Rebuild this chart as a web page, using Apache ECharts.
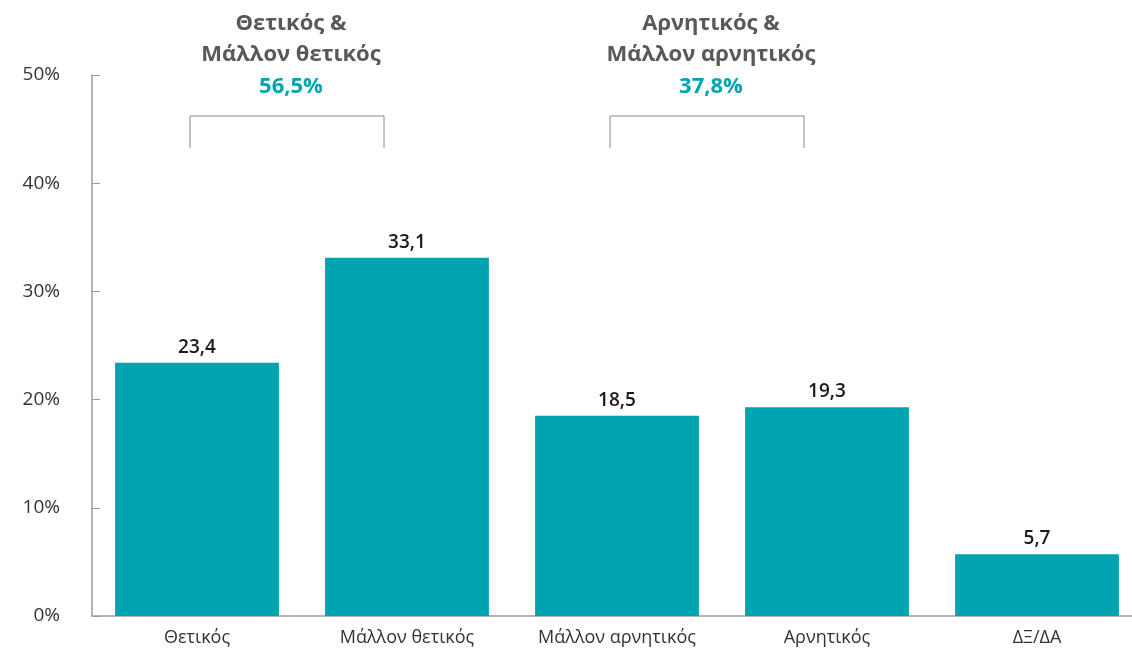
<!DOCTYPE html>
<html lang="el">
<head>
    <meta charset="UTF-8">
    <title>Θετικός / Αρνητικός</title>
    <script src="https://cdn.jsdelivr.net/npm/echarts@6/dist/echarts.min.js"></script>
    <style>
        html, body { margin: 0; padding: 0; background: #fff; overflow: hidden; }
        /* the plot runs slightly past the right edge, as in the original */
        #main { width: 1142px; height: 655px; }
    </style>
</head>
<body>
<div id="main"></div>
<script type="text/javascript">
    // δεδομένα
    var categories = ['Θετικός', 'Μάλλον θετικός', 'Μάλλον αρνητικός', 'Αρνητικός', 'ΔΞ/ΔΑ'];
    var values = [23.4, 33.1, 18.5, 19.3, 5.7];
    var yTicks = [0, 10, 20, 30, 40, 50];
    // ομάδες πάνω από τις μπάρες: [πρώτη κατηγορία, δεύτερη, γραμμή 1, γραμμή 2, σύνολο]
    var groups = [
        [0, 1, 'Θετικός &', 'Μάλλον θετικός', '56,5%'],
        [2, 3, 'Αρνητικός &', 'Μάλλον αρνητικός', '37,8%']
    ];

    var teal = '#00A4B1';
    var font = 'Open Sans';

    var myChart = echarts.init(document.getElementById('main'));

    var option = {
        animation: false,
        grid: {
            left: 92,
            right: 0,
            top: 75,
            bottom: 39,
            containLabel: false
        },
        xAxis: {
            type: 'category',
            data: categories,
            axisLine: { lineStyle: { color: '#9a9a9a', width: 1.5 } },
            axisTick: { inside: true, length: 5, lineStyle: { color: '#777' } },
            axisLabel: {
                color: '#333',
                fontFamily: font,
                fontSize: 18,
                margin: 13
            }
        },
        yAxis: {
            type: 'value',
            min: yTicks[0],
            max: yTicks[yTicks.length - 1],
            interval: 10,
            splitLine: { show: false },
            axisLine: { show: true, lineStyle: { color: '#9a9a9a', width: 1.5 } },
            axisTick: { show: true, inside: true, length: 8, lineStyle: { color: '#9a9a9a' } },
            axisLabel: {
                color: '#333',
                fontFamily: font,
                fontSize: 19,
                margin: 32,
                formatter: '{value}%'
            }
        },
        series: [
            {
                type: 'bar',
                data: values,
                barCategoryGap: '22%',
                itemStyle: { color: teal },
                label: {
                    show: true,
                    position: 'top',
                    distance: 6,
                    color: '#1a1a1a',
                    fontFamily: font,
                    fontWeight: 600,
                    fontSize: 19,
                    formatter: function (p) {
                        return p.value.toFixed(1).replace('.', ',');
                    }
                }
            }
        ]
    };

    myChart.setOption(option);

    // αγκύλες και τίτλοι ομάδων
    var graphics = [];
    groups.forEach(function (g) {
        var x1 = myChart.convertToPixel({ xAxisIndex: 0 }, categories[g[0]]) - 7;
        var x2 = myChart.convertToPixel({ xAxisIndex: 0 }, categories[g[1]]) - 23;
        var mid = (x1 + x2) / 2 + 4;
        graphics.push({
            type: 'polyline',
            shape: { points: [[x1, 148], [x1, 116], [x2, 116], [x2, 148]] },
            style: { stroke: '#888', lineWidth: 1, fill: null }
        });
        [[g[2], 24, '#595959'], [g[3], 55, '#595959'], [g[4], 87, teal]].forEach(function (t) {
            graphics.push({
                type: 'text',
                x: mid,
                y: t[1],
                style: {
                    text: t[0],
                    fill: t[2],
                    font: 'bold 22px "' + font + '"',
                    align: 'center',
                    verticalAlign: 'middle'
                }
            });
        });
    });
    myChart.setOption({ graphic: graphics });
</script>
</body>
</html>
